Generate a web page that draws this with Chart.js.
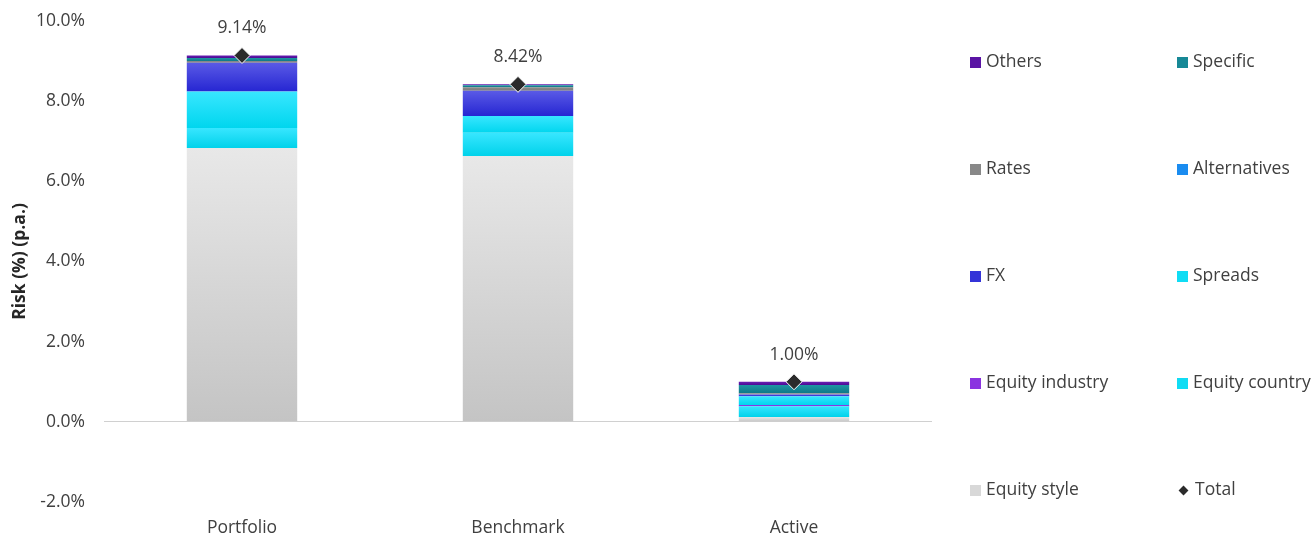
<!DOCTYPE html>
<html>
<head>
<meta charset="utf-8">
<script src="https://cdn.jsdelivr.net/npm/chart.js@4/dist/chart.umd.min.js"></script>
<style>
  html, body { margin: 0; padding: 0; background: #fff; }
  #wrap { position: relative; width: 1315px; height: 538px; font-family: "Open Sans", sans-serif; }
  #c { position: absolute; left: 0; top: 0; }
  .lg { position: absolute; font-size: 17.5px; color: #404040; line-height: 20px; white-space: nowrap; }
  .lg .sw { display: inline-block; width: 11px; height: 11px; margin-right: 5px; vertical-align: -1px; }
</style>
</head>
<body>
<div id="wrap">
  <canvas id="c" width="1315" height="538"></canvas>
</div>
<script>
const categories = ["Portfolio", "Benchmark", "Active"];
const equityStyle    = [6.83, 6.63, 0.12];
const equityCountry  = [0.50, 0.58, 0.27];
const equityIndustry = [0.00, 0.00, 0.03];
const spreads        = [0.91, 0.42, 0.22];
const fx             = [0.72, 0.63, 0.04];
const alternatives   = [0.00, 0.00, 0.00];
const rates          = [0.04, 0.09, 0.03];
const specific       = [0.08, 0.05, 0.21];
const others         = [0.06, 0.02, 0.08];
const totals         = [9.14, 8.42, 1.00];
const yTicks = [-2, 0, 2, 4, 6, 8, 10];

const FONT = "'Open Sans', sans-serif";
const FS = 17.5;

const seriesDefs = [
  { label: "Equity style",    data: equityStyle,    top: "#e8e8e8", bot: "#c4c4c4", sw: "#d8d8d8" },
  { label: "Equity country",  data: equityCountry,  top: "#38e6ff", bot: "#00d2ea", sw: "#10dcf4" },
  { label: "Equity industry", data: equityIndustry, top: "#9a44ec", bot: "#7a22d4", sw: "#8a34e0" },
  { label: "Spreads",         data: spreads,        top: "#38e6ff", bot: "#00d6ee", sw: "#10dcf4" },
  { label: "FX",              data: fx,             top: "#5a5ae6", bot: "#2626d2", sw: "#3434d8" },
  { label: "Alternatives",    data: alternatives,   top: "#30a0fa", bot: "#0a7ce8", sw: "#1a8cf0" },
  { label: "Rates",           data: rates,          top: "#8c8c8c", bot: "#7c7c7c", sw: "#888888" },
  { label: "Specific",        data: specific,       top: "#1e96a4", bot: "#0e7886", sw: "#178896" },
  { label: "Others",          data: others,         top: "#6a20b4", bot: "#4c0c94", sw: "#5a14a4" }
];

function cumulative(dsIndex, i) {
  let s = 0;
  for (let k = 0; k < dsIndex; k++) s += seriesDefs[k].data[i];
  return s;
}

const barDatasets = seriesDefs.map((d, di) => ({
  type: "bar",
  label: d.label,
  data: d.data,
  stack: "s",
  order: 2,
  borderWidth: 0,
  backgroundColor: (ctx) => {
    const chart = ctx.chart;
    if (ctx.type !== "data" || !chart.scales || !chart.scales.y) return d.sw;
    const y = chart.scales.y;
    const start = cumulative(di, ctx.dataIndex);
    const end = start + d.data[ctx.dataIndex];
    const y0 = y.getPixelForValue(end);
    const y1 = y.getPixelForValue(start);
    if (!isFinite(y0) || !isFinite(y1) || Math.abs(y1 - y0) < 0.5) return d.sw;
    const g = chart.ctx.createLinearGradient(0, y0, 0, y1);
    g.addColorStop(0, d.top);
    g.addColorStop(1, d.bot);
    return g;
  }
}));

const totalDataset = {
  type: "line",
  label: "Total",
  data: totals,
  showLine: false,
  order: 0,
  pointStyle: "rectRot",
  pointRadius: 8,
  pointHoverRadius: 8,
  pointBackgroundColor: "#2b2b2b",
  pointBorderColor: "#ffffff",
  pointBorderWidth: 1
};

const totalLabels = {
  id: "totalLabels",
  afterDatasetsDraw(chart) {
    const meta = chart.getDatasetMeta(chart.data.datasets.length - 1);
    const ctx = chart.ctx;
    ctx.save();
    ctx.font = FS + "px " + FONT;
    ctx.fillStyle = "#404040";
    ctx.textAlign = "center";
    ctx.textBaseline = "middle";
    meta.data.forEach((pt, i) => {
      ctx.fillText(totals[i].toFixed(2) + "%", pt.x, pt.y - 27);
    });
    ctx.restore();
  }
};

new Chart(document.getElementById("c"), {
  data: { labels: categories, datasets: [...barDatasets, totalDataset] },
  options: {
    responsive: false,
    animation: false,
    events: [],
    layout: { padding: { left: 0, right: 383, top: 21, bottom: 0 } },
    plugins: { legend: { display: false }, tooltip: { enabled: false } },
    datasets: { bar: { barPercentage: 0.4, categoryPercentage: 1.0 } },
    scales: {
      x: {
        stacked: true,
        grid: { display: false, drawTicks: false },
        border: { display: false },
        afterFit: (axis) => { axis.height = 36; axis.paddingTop = 0; axis.paddingBottom = 0; },
        ticks: { padding: 16, color: "#404040", font: { family: FONT, size: FS } }
      },
      y: {
        stacked: true,
        min: -2, max: 10,
        afterBuildTicks: (axis) => { axis.ticks = yTicks.map(v => ({ value: v })); },
        afterFit: (axis) => { axis.width = 104; axis.paddingTop = 0; axis.paddingBottom = 0; },
        grid: {
          drawTicks: false,
          color: (c) => (c.tick && c.tick.value === 0) ? "#d0d0d0" : "rgba(0,0,0,0)",
          lineWidth: 1
        },
        border: { display: false },
        ticks: {
          padding: 19,
          color: "#404040",
          font: { family: FONT, size: FS },
          callback: (v) => Number(v).toFixed(1) + "%"
        },
        title: {
          display: true,
          text: "Risk (%) (p.a.)",
          color: "#262626",
          font: { family: FONT, size: FS, weight: "bold" },
          padding: { top: 10, bottom: 4 }
        }
      }
    }
  },
  plugins: [totalLabels]
});

// HTML legend (2 columns x 5 rows)
const legendOrder = [
  ["Others", "Specific"],
  ["Rates", "Alternatives"],
  ["FX", "Spreads"],
  ["Equity industry", "Equity country"],
  ["Equity style", "Total"]
];
const rowY = [60, 167, 274, 381, 488];
const colX = [970, 1177];
const wrap = document.getElementById("wrap");
legendOrder.forEach((row, r) => {
  row.forEach((name, c) => {
    const el = document.createElement("div");
    el.className = "lg";
    el.style.left = colX[c] + "px";
    el.style.top = (rowY[r] - 10) + "px";
    const sw = document.createElement("span");
    sw.className = "sw";
    if (name === "Total") {
      sw.style.width = "7px"; sw.style.height = "7px";
      sw.style.background = "#2b2b2b";
      sw.style.transform = "rotate(45deg)";
      sw.style.margin = "0 8px 0 3px";
      sw.style.verticalAlign = "1px";
    } else {
      const def = seriesDefs.find(s => s.label === name);
      sw.style.background = def.sw;
    }
    el.appendChild(sw);
    el.appendChild(document.createTextNode(name));
    wrap.appendChild(el);
  });
});
</script>
</body>
</html>
